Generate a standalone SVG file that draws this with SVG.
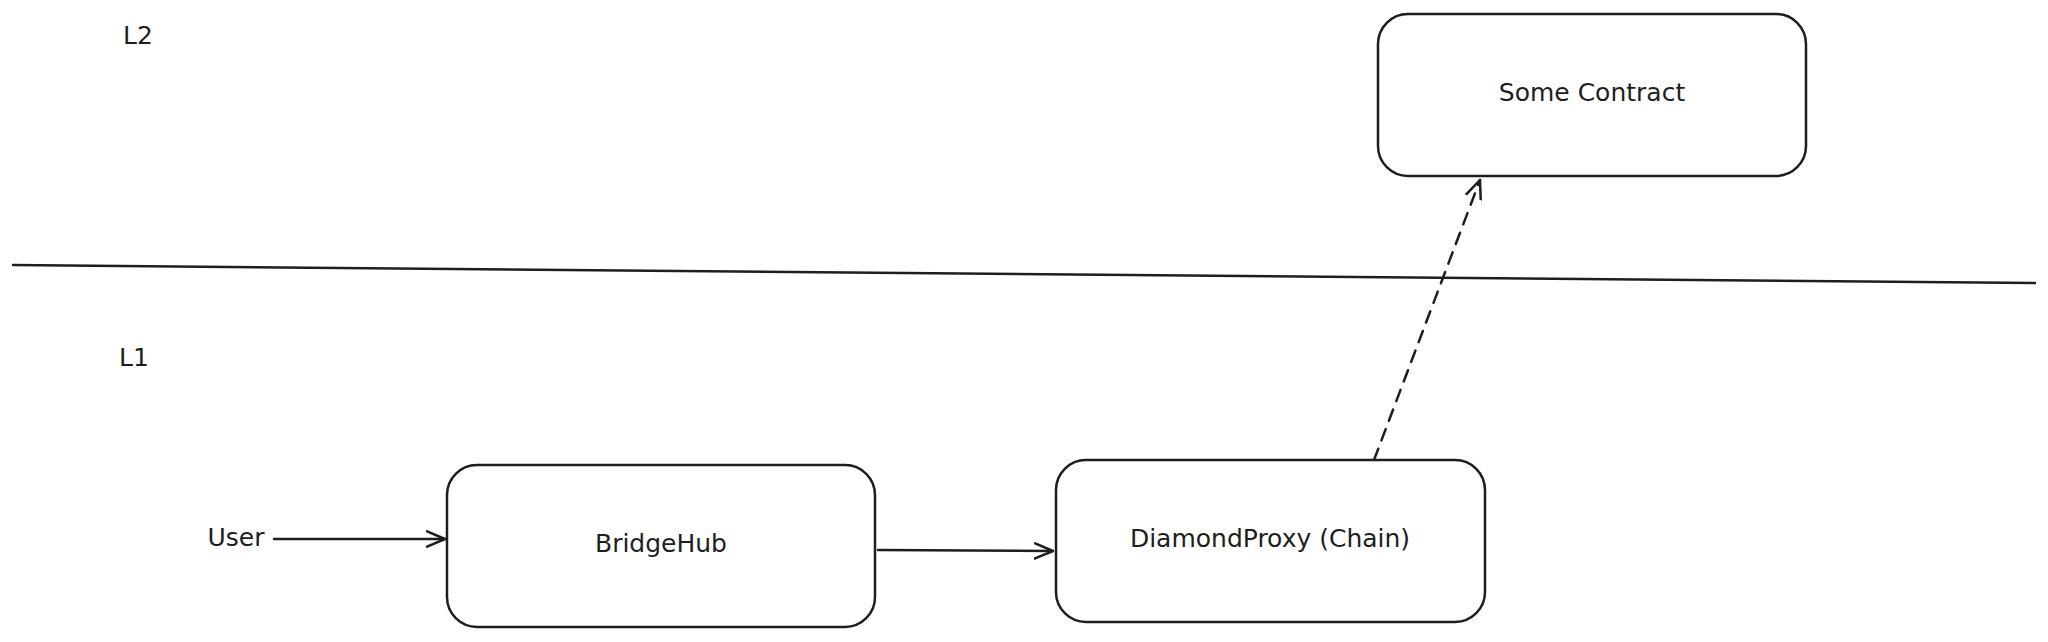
<svg xmlns="http://www.w3.org/2000/svg" width="2048" height="642" viewBox="0 0 2048 642">
<style>
.box{fill:#fff;stroke:#1e1e1e;stroke-width:2.5}
.t{font-family:"DejaVu Sans",sans-serif;font-size:25px;fill:#1e1e1e;text-anchor:middle;dominant-baseline:middle}
.c{stroke:#1e1e1e;stroke-width:2.5;fill:none;stroke-linecap:round}
</style>
<defs>
<marker id="a" viewBox="0 0 20 20" refX="19" refY="10" markerWidth="20" markerHeight="20" markerUnits="userSpaceOnUse" orient="auto"><path d="M0,2 L19,10 L0,18" fill="none" stroke="#1e1e1e" stroke-width="2.5"/></marker>
</defs>
<rect width="2048" height="642" fill="#fff"/>
<text class="t" x="138" y="37">L2</text>
<text class="t" x="134" y="359">L1</text>
<g id="connectors">
<path class="c" d="M13,265 L2035,283"/>
<path class="c" d="M274,539 L445,539" marker-end="url(#a)"/>
<path class="c" d="M878,550 L1053,551" marker-end="url(#a)"/>
<path class="c" d="M1374,460 L1480,180" stroke-dasharray="12,9" marker-end="url(#a)"/>
</g>
<g id="user"><text class="t" x="236" y="539">User</text></g>
<g id="somecontract"><rect class="box" x="1378" y="14" width="428" height="162" rx="30"/><text class="t" x="1592" y="94">Some Contract</text></g>
<g id="bridgehub"><rect class="box" x="447" y="465" width="428" height="162" rx="30"/><text class="t" x="661" y="545">BridgeHub</text></g>
<g id="diamondproxy"><rect class="box" x="1056" y="460" width="429" height="162" rx="30"/><text class="t" x="1270" y="540">DiamondProxy (Chain)</text></g>
</svg>
